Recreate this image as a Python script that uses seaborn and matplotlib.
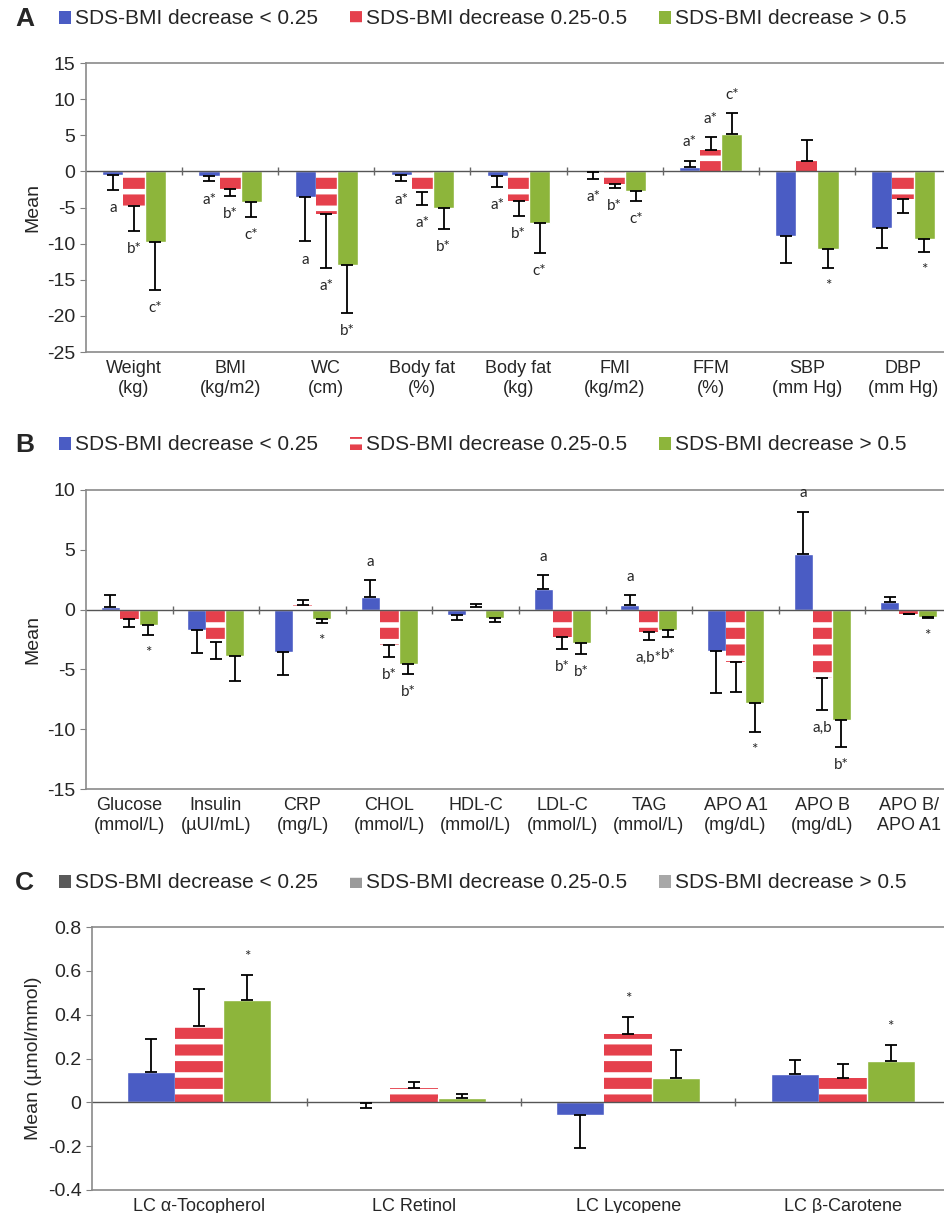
import numpy as np
import pandas as pd
import seaborn as sns
import matplotlib.pyplot as plt
from matplotlib.patches import Patch
from matplotlib.ticker import FuncFormatter

groups = ['SDS-BMI decrease < 0.25', 'SDS-BMI decrease 0.25-0.5', 'SDS-BMI decrease > 0.5']

# panel A - anthropometry / blood pressure
a_cats = ['Weight\n(kg)', 'BMI\n(kg/m2)', 'WC\n(cm)', 'Body fat\n(%)', 'Body fat\n(kg)',
          'FMI\n(kg/m2)', 'FFM\n(%)', 'SBP\n(mm Hg)', 'DBP\n(mm Hg)']
a_low = [-0.5, -0.7, -3.6, -0.5, -0.7, -0.15, 0.55, -9.0, -7.9]
a_mid = [-4.8, -2.4, -5.9, -2.9, -4.1, -1.7, 2.9, 1.4, -3.8]
a_high = [-9.8, -4.2, -13.0, -5.0, -7.1, -2.7, 5.2, -10.8, -9.3]
a_low_err = [2.1, 0.7, 6.1, 0.9, 1.4, 0.85, 0.95, 3.7, 2.7]
a_mid_err = [3.4, 1.0, 7.5, 1.8, 2.1, 0.6, 1.9, 2.9, 2.0]
a_high_err = [6.6, 2.1, 6.6, 3.0, 4.2, 1.4, 2.9, 2.6, 1.8]
a_low_note = ['a', 'a*', 'a', 'a*', 'a*', 'a*', 'a*', '', '']
a_mid_note = ['b*', 'b*', 'a*', 'a*', 'b*', 'b*', 'a*', '', '']
a_high_note = ['c*', 'c*', 'b*', 'b*', 'c*', 'c*', 'c*', '*', '*']

# panel B - blood biochemistry
b_cats = ['Glucose\n(mmol/L)', 'Insulin\n(µUI/mL)', 'CRP\n(mg/L)', 'CHOL\n(mmol/L)', 'HDL-C\n(mmol/L)',
          'LDL-C\n(mmol/L)', 'TAG\n(mmol/L)', 'APO A1\n(mg/dL)', 'APO B\n(mg/dL)', 'APO B/\nAPO A1']
b_low = [0.2, -1.7, -3.55, 1.05, -0.45, 1.75, 0.42, -3.5, 4.65, 0.65]
b_mid = [-0.75, -2.7, 0.35, -3.0, 0.2, -2.3, -1.9, -4.4, -5.75, -0.35]
b_high = [-1.3, -3.9, -0.75, -4.55, -0.7, -2.8, -1.7, -7.8, -9.2, -0.6]
b_low_err = [1.0, 1.95, 1.95, 1.4, 0.4, 1.15, 0.8, 3.45, 3.55, 0.4]
b_mid_err = [0.7, 1.4, 0.45, 0.95, 0.3, 1.0, 0.6, 2.5, 2.65, 0.05]
b_high_err = [0.8, 2.05, 0.35, 0.85, 0.35, 0.9, 0.6, 2.4, 2.3, 0.1]
b_low_note = ['', '', '', 'a', '', 'a', 'a', '', 'a', '']
b_mid_note = ['', '', '', 'b*', '', 'b*', 'a,b*', '', 'a,b', '']
b_high_note = ['*', '', '*', 'b*', '', 'b*', 'b*', '*', 'b*', '*']

# panel C - lipid-corrected antioxidants
c_cats = ['LC α-Tocopherol', 'LC Retinol', 'LC Lycopene', 'LC β-Carotene']
c_low = [0.139, -0.005, -0.06, 0.129]
c_mid = [0.35, 0.064, 0.31, 0.109]
c_high = [0.468, 0.018, 0.109, 0.19]
c_low_err = [0.151, 0.019, 0.15, 0.066]
c_mid_err = [0.165, 0.027, 0.08, 0.068]
c_high_err = [0.112, 0.018, 0.129, 0.07]
c_low_note = ['', '', '', '']
c_mid_note = ['', '', '*', '']
c_high_note = ['*', '', '', '*']

BLUE = '#4a5cc4'
RED = '#e5404c'
GREEN = '#8db53b'

sns.set_style('white')
plt.rcParams['font.family'] = ['Liberation Sans', 'DejaVu Sans']
plt.rcParams['axes.unicode_minus'] = False
plt.rcParams['hatch.linewidth'] = 4.0

fig = plt.figure(figsize=(9.45, 12.13), dpi=100)


def panel(rect, cats, means, errs, notes, ylim, yticks, ylabel, width):
    ax = fig.add_axes(rect)
    df = pd.DataFrame({
        'cat': cats * 3,
        'group': np.repeat(groups, len(cats)),
        'mean': np.concatenate(means),
    })
    sns.barplot(data=df, x='cat', y='mean', hue='group', order=cats, hue_order=groups,
                palette=[BLUE, RED, GREEN], width=width, gap=0, errorbar=None,
                legend=False, saturation=1, ax=ax)
    bar_conts = list(ax.containers[:3])
    for bar in bar_conts[1]:
        bar.set_edgecolor('white')
        bar.set_hatch('-')
        bar.set_linewidth(0)
    for i, cont in enumerate(bar_conts):
        xs = np.array([b.get_x() + b.get_width() / 2 for b in cont])
        m = np.array(means[i])
        e = np.array(errs[i])
        lower = np.where(m < 0, e, 0)
        upper = np.where(m >= 0, e, 0)
        ax.errorbar(xs, m, yerr=[lower, upper], fmt='none', ecolor='black',
                    elinewidth=1.3, capsize=4.5, capthick=1.3, zorder=3)
        for x, mv, ev, nt in zip(xs, m, e, notes[i]):
            if not nt:
                continue
            end = mv - ev if mv < 0 else mv + ev
            off = -13 if mv < 0 else 13
            ax.annotate(nt, (x, end), xytext=(0, off), textcoords='offset points',
                        ha='center', va='center', fontsize=11, family=['Lato', 'DejaVu Sans'])
    n = len(cats)
    ax.axhline(0, color='#555555', lw=1.0, zorder=1)
    ax.plot(np.arange(n - 1) + 0.5, np.zeros(n - 1), ls='none', marker='|',
            ms=6, mew=1, color='#666666', zorder=1)
    ax.set_xlim(-0.5, n - 0.5)
    ax.set_ylim(*ylim)
    ax.set_yticks(yticks)
    ax.yaxis.set_major_formatter(FuncFormatter(lambda v, p: f'{v:g}'))
    ax.set_xlabel('')
    ax.set_ylabel(ylabel, fontsize=14, labelpad=4)
    ax.tick_params(axis='y', labelsize=14, length=4, color='#808080', left=True)
    ax.tick_params(axis='x', labelsize=13, length=0, pad=6)
    for s in ['left', 'top', 'bottom']:
        ax.spines[s].set_color('#8a8a8a')
        ax.spines[s].set_linewidth(1.2)
    ax.spines['right'].set_visible(False)
    return ax


def legend(y, letter, colors):
    fig.text(0.016, y, letter, fontsize=19, fontweight='bold', va='center', ha='left')
    handles = [Patch(facecolor=colors[0], edgecolor=colors[0], lw=0),
               Patch(facecolor=colors[1], edgecolor='white', hatch='-', lw=0),
               Patch(facecolor=colors[2], edgecolor=colors[2], lw=0)]
    fig.legend(handles, groups, loc='center left', bbox_to_anchor=(0.062, y), ncol=3,
               frameon=False, fontsize=15, handlelength=0.6, handleheight=0.6,
               handletextpad=0.2, columnspacing=1.5, borderpad=0, borderaxespad=0)


panel([86 / 945, 1 - 352 / 1213, 865 / 945, 289 / 1213], a_cats,
      [a_low, a_mid, a_high], [a_low_err, a_mid_err, a_high_err],
      [a_low_note, a_mid_note, a_high_note], (-25, 15), range(-25, 16, 5), 'Mean', 0.66)
legend(1 - 19 / 1213, 'A', [BLUE, RED, GREEN])

panel([86 / 945, 1 - 789 / 1213, 866 / 945, 299 / 1213], b_cats,
      [b_low, b_mid, b_high], [b_low_err, b_mid_err, b_high_err],
      [b_low_note, b_mid_note, b_high_note], (-15, 10), range(-15, 11, 5), 'Mean', 0.66)
legend(1 - 445 / 1213, 'B', [BLUE, RED, GREEN])

panel([92 / 945, 1 - 1190 / 1213, 858 / 945, 263 / 1213], c_cats,
      [c_low, c_mid, c_high], [c_low_err, c_mid_err, c_high_err],
      [c_low_note, c_mid_note, c_high_note], (-0.4, 0.8), np.arange(-0.4, 0.81, 0.2),
      'Mean (µmol/mmol)', 0.67)
legend(1 - 883 / 1213, 'C', ['#5a5a5a', '#9a9a9a', '#a8a8a8'])

fig.savefig('out.png', dpi=100)
